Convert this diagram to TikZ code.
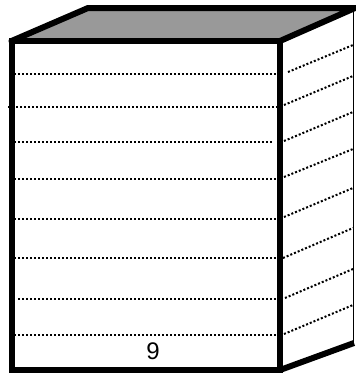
\documentclass[tikz,border=0pt]{standalone}
\usepackage{fontspec}
\setmainfont{Liberation Sans}
\tikzset{
  heavy/.style={line width=6pt,line join=miter,line cap=round},
  thin edge/.style={line width=1.5pt},
  dots/.style={line width=2pt,dash pattern=on 2pt off 2pt}
}
\begin{document}
\begin{tikzpicture}[x=1pt,y=-1pt]
\useasboundingbox (0,0) rectangle (356,373);
\fill[white] (0,0) rectangle (356,373);
\coordinate (ftl) at (11.5,41);
\coordinate (ftr) at (280,41);
\coordinate (fbl) at (11.5,370);
\coordinate (fbr) at (280,370);
\coordinate (btl) at (88,8);
\coordinate (btr) at (355,8);
\coordinate (bbr) at (354,343);
\fill[black!40] (ftl) -- (btl) -- (btr) -- (ftr) -- cycle;
\foreach \y/\a/\b in {73.5/14/277,107/8/277,142/14/273,179/14/277,219/14/277,258/14/277,299/18/277,335/14/277}
  \draw[dots] (\a,\y) -- (\b,\y);
\foreach \a/\b/\c/\d in {288/72/353/45,284/105/353/76,284/141/353/112,284/177/353/149,284/217/353/188,283/258/353/228,285/298/353/269,284/334/353/305}
  \draw[dots] (\a,\b) -- (\c,\d);
\draw[thin edge] (353.5,8) -- (353.5,343);
\draw[heavy,line cap=butt] (fbr) -- (bbr);
\draw[heavy] (ftl) -- (btl) -- (btr) -- (ftr);
\draw[heavy] (ftl) rectangle (fbr);
\node[font=\fontsize{24}{24}\selectfont,inner sep=0pt] (nine) at (153,351.5) {9};
\end{tikzpicture}
\end{document}
